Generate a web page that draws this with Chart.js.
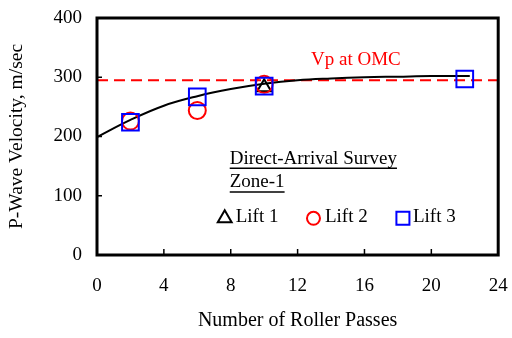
<!DOCTYPE html>
<html>
<head>
<meta charset="utf-8">
<script src="https://cdn.jsdelivr.net/npm/chart.js@4.4.1/dist/chart.umd.min.js"></script>
<style>
  html, body { margin: 0; padding: 0; background: #fff; }
  #wrap { width: 512px; height: 338px; }
</style>
</head>
<body>
<div id="wrap"><canvas id="vpChart" width="512" height="338"></canvas></div>
<script>
// --- Data ---
const xTicks = [0, 4, 8, 12, 16, 20, 24];
const yTicks = [0, 100, 200, 300, 400];

const lift1Passes = [10];
const lift1Vp = [283];

const lift2Passes = [2, 6, 10];
const lift2Vp = [226, 244, 288];

const lift3Passes = [2, 6, 10, 22];
const lift3Vp = [224, 267, 285, 297];

// fitted trend curve
const trendPasses = [0, 2, 4, 6, 8, 10, 12, 14, 16, 18, 20, 22.3];
const trendVp = [199, 228, 252, 268, 280, 289, 295, 298, 300, 301, 302, 302];

const vpOMC = 295;

const toPts = (xs, ys) => xs.map((x, i) => ({ x: x, y: ys[i] }));
const serif = "'Liberation Serif', 'Times New Roman', serif";

// frame, inward ticks, text notes and legend
const decor = {
    id: 'decor',
    afterDraw(chart) {
        const { ctx, chartArea: a, scales: { x, y } } = chart;
        ctx.save();
        ctx.strokeStyle = '#000';
        ctx.lineWidth = 1.5;
        yTicks.forEach(v => {
            const py = y.getPixelForValue(v);
            ctx.beginPath(); ctx.moveTo(a.left, py); ctx.lineTo(a.left + 5, py); ctx.stroke();
        });
        xTicks.forEach(v => {
            const px = x.getPixelForValue(v);
            ctx.beginPath(); ctx.moveTo(px, a.bottom); ctx.lineTo(px, a.bottom - 6); ctx.stroke();
        });
        ctx.lineWidth = 3;
        ctx.strokeRect(a.left, a.top, a.right - a.left, a.bottom - a.top);

        ctx.font = '19px ' + serif;
        ctx.textBaseline = 'alphabetic';
        ctx.textAlign = 'left';

        // Vp at OMC label
        ctx.fillStyle = '#ff0000';
        ctx.fillText('Vp at OMC', x.getPixelForValue(12.8), y.getPixelForValue(320));

        // survey title with underline
        ctx.fillStyle = '#000';
        ctx.lineWidth = 1.5;
        const tx = x.getPixelForValue(7.94);
        [['Direct-Arrival Survey', 154], ['Zone-1', 114]].forEach(([t, v]) => {
            const by = y.getPixelForValue(v);
            ctx.fillText(t, tx, by);
            const w = ctx.measureText(t).width;
            ctx.beginPath(); ctx.moveTo(tx, by + 4.5); ctx.lineTo(tx + w, by + 4.5); ctx.stroke();
        });

        // legend
        const ly = y.getPixelForValue(62);
        const items = [
            { label: 'Lift 1', style: 'triangle', color: '#000', r: 8, at: 7.64, gap: 11 },
            { label: 'Lift 2', style: 'circle', color: '#ff0000', r: 6.5, at: 12.95, gap: 11.5 },
            { label: 'Lift 3', style: 'rect', color: '#0000ff', r: 9.2, at: 18.3, gap: 10 }
        ];
        items.forEach(it => {
            const px = x.getPixelForValue(it.at);
            ctx.strokeStyle = it.color;
            ctx.fillStyle = 'rgba(0,0,0,0)';
            ctx.lineWidth = 2;
            Chart.helpers.drawPoint(ctx, { pointStyle: it.style, radius: it.r, borderWidth: 2 }, px, ly);
            ctx.fillStyle = '#000';
            ctx.fillText(it.label, px + it.gap, ly + 3.5);
        });
        ctx.restore();
    }
};

new Chart(document.getElementById('vpChart').getContext('2d'), {
    type: 'scatter',
    data: {
        datasets: [
            {
                label: 'Vp at OMC',
                data: [{ x: 0, y: vpOMC }, { x: 24, y: vpOMC }],
                showLine: true,
                borderColor: '#ff0000',
                borderWidth: 2,
                borderDash: [11, 6],
                pointRadius: 0,
                order: 5
            },
            {
                label: 'Trend',
                data: toPts(trendPasses, trendVp),
                showLine: true,
                borderColor: '#000',
                borderWidth: 2,
                tension: 0.4,
                pointRadius: 0,
                order: 4
            },
            {
                label: 'Lift 1',
                data: toPts(lift1Passes, lift1Vp),
                pointStyle: 'triangle',
                pointRadius: 8,
                borderColor: '#000',
                backgroundColor: 'rgba(0,0,0,0)',
                pointBorderWidth: 2,
                order: 3
            },
            {
                label: 'Lift 2',
                data: toPts(lift2Passes, lift2Vp),
                pointStyle: 'circle',
                pointRadius: 8.5,
                borderColor: '#ff0000',
                backgroundColor: 'rgba(0,0,0,0)',
                pointBorderWidth: 2,
                order: 2
            },
            {
                label: 'Lift 3',
                data: toPts(lift3Passes, lift3Vp),
                pointStyle: 'rect',
                pointRadius: 11.8,
                borderColor: '#0000ff',
                backgroundColor: 'rgba(0,0,0,0)',
                pointBorderWidth: 2,
                order: 1
            }
        ]
    },
    options: {
        responsive: false,
        animation: false,
        layout: { padding: { top: 18, right: 11, left: 0, bottom: 0 } },
        plugins: { legend: { display: false }, tooltip: { enabled: false } },
        scales: {
            x: {
                type: 'linear',
                min: 0, max: 24,
                afterBuildTicks: s => { s.ticks = xTicks.map(v => ({ value: v })); },
                afterFit: s => { s.height = 83; s.paddingLeft = 0; s.paddingRight = 0; },
                grid: { display: false, drawTicks: false },
                border: { display: false },
                ticks: { color: '#000', padding: 20, font: { family: serif, size: 19 } },
                title: {
                    display: true, text: 'Number of Roller Passes', color: '#000',
                    font: { family: serif, size: 20 }, padding: { top: 0, bottom: 5 }
                }
            },
            y: {
                type: 'linear',
                min: 0, max: 400,
                afterBuildTicks: s => { s.ticks = yTicks.map(v => ({ value: v })); },
                afterFit: s => { s.width = 97; s.paddingTop = 0; s.paddingBottom = 0; },
                grid: { display: false, drawTicks: false },
                border: { display: false },
                ticks: { color: '#000', padding: 15, font: { family: serif, size: 19 } },
                title: {
                    display: true, text: 'P-Wave Velocity, m/sec', color: '#000',
                    font: { family: serif, size: 19.5 }, padding: { top: 5, bottom: 0 }
                }
            }
        }
    },
    plugins: [decor]
});
</script>
</body>
</html>
